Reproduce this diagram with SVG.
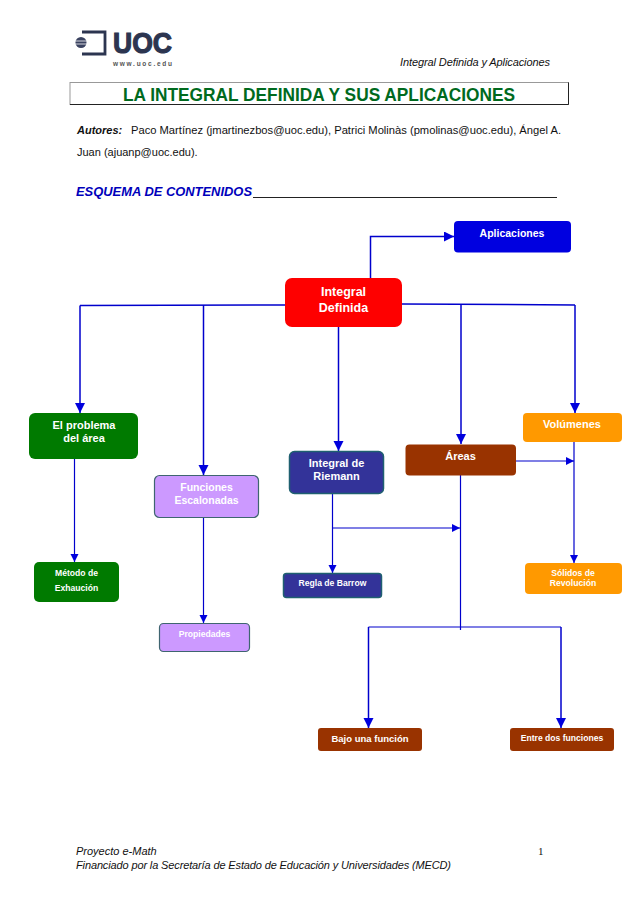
<svg xmlns="http://www.w3.org/2000/svg" width="638" height="903" viewBox="0 0 638 903">
<style>
text{font-family:"Liberation Sans",Arial,sans-serif}
.n{font-weight:bold;fill:#fff;text-anchor:middle}
.s12{font-size:12.500px}.s11{font-size:11px}.s105{font-size:10.500px}.s10{font-size:9.500px}.s9{font-size:8.600px}
.it{font-style:italic;font-size:11px;fill:#111}
.c{fill:none;stroke:#0000cc;stroke-width:1.500}
.a{fill:none;stroke:#0000cc;stroke-width:1.500;marker-end:url(#ah)}
.a2{fill:none;stroke:#0000cc;stroke-width:1.200;marker-end:url(#ah2)}
.c2{fill:none;stroke:#0000cc;stroke-width:1.200}
.b1{stroke:#3f6570;stroke-width:1.200}
.b2{stroke:#1f6070;stroke-width:1.500}
</style>
<defs>
<marker id="ah" markerUnits="userSpaceOnUse" markerWidth="11" markerHeight="11" refX="10" refY="5" orient="auto"><path d="M0 0L10 5L0 10Z" fill="#0000dd"/></marker>
<marker id="ah2" markerUnits="userSpaceOnUse" markerWidth="9" markerHeight="9" refX="8" refY="4" orient="auto"><path d="M0 0L8 4L0 8Z" fill="#0000dd"/></marker>
</defs>
<rect width="638" height="903" fill="#fff"/>
<g id="logo">
<path d="M82 32H105V54H82" fill="none" stroke="#2c3550" stroke-width="2.800"/>
<circle cx="81" cy="42.500" r="5.500" fill="#3a4260"/>
<path d="M75.500 41H86.500M75.500 44H86.500" stroke="#fff" stroke-width="0.800"/>
<text x="113" y="53" font-size="30" font-weight="bold" fill="#2c3550" stroke="#2c3550" stroke-width="1.200" textLength="59" lengthAdjust="spacingAndGlyphs">UOC</text>
<text x="113" y="66" font-size="6.500" font-weight="bold" fill="#555" textLength="59">www.uoc.edu</text>
</g>
<text class="it" x="400" y="66" textLength="150">Integral Definida y Aplicaciones</text>
<g id="title">
<rect x="70" y="82.500" width="498.500" height="22" fill="#fff" stroke="#999" stroke-width="1"/>
<path d="M70 104.500H568.500V82.500" fill="none" stroke="#222" stroke-width="1"/>
<text x="319" y="100.500" font-size="19" font-weight="bold" fill="#006a1e" text-anchor="middle" textLength="392" lengthAdjust="spacingAndGlyphs">LA INTEGRAL DEFINIDA Y SUS APLICACIONES</text>
</g>
<text x="77" y="134" font-size="11" font-weight="bold" font-style="italic" fill="#111">Autores:</text>
<text x="131" y="134" font-size="11" fill="#111" textLength="430" lengthAdjust="spacingAndGlyphs">Paco Martínez (jmartinezbos@uoc.edu), Patrici Molinàs (pmolinas@uoc.edu), Ángel A.</text>
<text x="77" y="156" font-size="11" fill="#111">Juan (ajuanp@uoc.edu).</text>
<text x="76" y="196" font-size="12.500" font-weight="bold" font-style="italic" fill="#0000bb" textLength="176" lengthAdjust="spacingAndGlyphs">ESQUEMA DE CONTENIDOS</text>
<path d="M253 197.500H557" stroke="#222" stroke-width="1"/>
<g id="connectors">
<path class="a" d="M370.500 278V236.500H454"/>
<path class="c" d="M285 305L80 305.500M402 304L575 305"/>
<path class="a" d="M80 305.500V413"/>
<path class="a" d="M203.500 305V475"/>
<path class="a" d="M338.500 327V451"/>
<path class="a" d="M461 304V444"/>
<path class="a" d="M575 305V413"/>
<path class="a2" d="M74.500 459V562"/>
<path class="a2" d="M203.500 517V623"/>
<path class="a2" d="M332.500 494V573"/>
<path class="a2" d="M332.500 528H460"/>
<path class="c2" d="M460.500 475V630"/>
<path class="a2" d="M516 461H574"/>
<path class="a2" d="M574 442V563"/>
<path class="c2" d="M368.500 627H561"/>
<path class="a" d="M368.500 627V728"/>
<path class="a" d="M561 627V728"/>
</g>
<g id="aplicaciones"><rect x="454" y="221" width="117" height="31.500" rx="4" fill="#0000e0"/><text class="n s105" x="512" y="237">Aplicaciones</text></g>
<g id="integral-definida"><rect x="285" y="278" width="117" height="49" rx="7" fill="#fe0000"/><text class="n s12" x="343.500" y="296">Integral</text><text class="n s12" x="343.500" y="312">Definida</text></g>
<g id="problema"><rect x="29" y="413" width="109" height="46" rx="6" fill="#007a00"/><text class="n s11" x="84" y="429">El problema</text><text class="n s11" x="84" y="442">del área</text></g>
<g id="metodo"><rect x="34" y="562" width="85" height="40" rx="5" fill="#007a00"/><text class="n s9" x="76.500" y="576">Método de</text><text class="n s9" x="76.500" y="591">Exhaución</text></g>
<g id="funciones"><rect class="b1" x="154.500" y="475.500" width="104" height="42" rx="5" fill="#cc99ff"/><text class="n s105" x="206.500" y="491">Funciones</text><text class="n s105" x="206.500" y="504">Escalonadas</text></g>
<g id="propiedades"><rect class="b1" x="159.500" y="623.500" width="90" height="28" rx="4" fill="#cc99ff"/><text class="n s9" x="204.500" y="637">Propiedades</text></g>
<g id="riemann"><rect class="b2" x="289.500" y="451.500" width="94" height="42" rx="5" fill="#333399"/><text class="n s11" x="336.500" y="467">Integral de</text><text class="n s11" x="336.500" y="480">Riemann</text></g>
<g id="barrow"><rect class="b2" x="283.500" y="573.500" width="98" height="24" rx="3" fill="#333399"/><text class="n s9" x="332.500" y="586">Regla de Barrow</text></g>
<g id="areas"><rect x="405.500" y="444.500" width="110.500" height="31" rx="4" fill="#993300"/><text class="n s11" x="460.500" y="460">Áreas</text></g>
<g id="volumenes"><rect x="523" y="413" width="99" height="29" rx="4" fill="#ff9900"/><text class="n s11" x="572" y="428">Volúmenes</text></g>
<g id="solidos"><rect x="525" y="563" width="97" height="31" rx="4" fill="#ff9900"/><text class="n s9" x="573" y="576">Sólidos de</text><text class="n s9" x="573" y="586">Revolución</text></g>
<g id="bajo"><rect x="318" y="728" width="104" height="23" rx="3" fill="#993300"/><text class="n s10" x="370" y="742">Bajo una función</text></g>
<g id="entre"><rect x="510" y="728" width="104" height="23" rx="3" fill="#993300"/><text class="n s9" x="562" y="741">Entre dos funciones</text></g>
<text class="it" x="76" y="855">Proyecto e-Math</text>
<text class="it" x="76" y="869" textLength="375">Financiado por la Secretaría de Estado de Educación y Universidades (MECD)</text>
<text x="538" y="855" font-size="11" style="font-family:'Liberation Serif',serif" fill="#111">1</text>
</svg>
